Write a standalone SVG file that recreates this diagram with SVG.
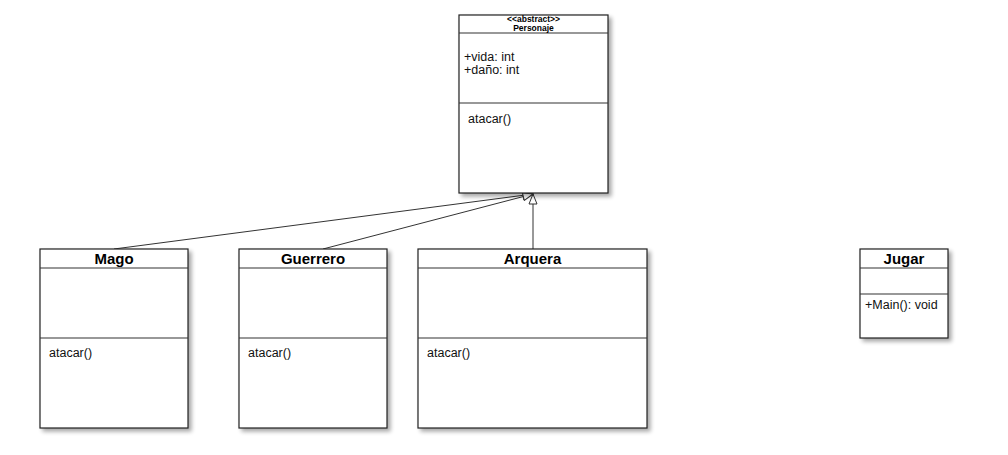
<svg xmlns="http://www.w3.org/2000/svg" width="1008" height="455" viewBox="0 0 1008 455">
<defs>
<filter id="sh" x="-10%" y="-10%" width="130%" height="130%">
<feGaussianBlur in="SourceAlpha" stdDeviation="2"/>
<feOffset dx="3" dy="3" result="b"/>
<feComponentTransfer><feFuncA type="linear" slope="0.35"/></feComponentTransfer>
<feMerge><feMergeNode/><feMergeNode in="SourceGraphic"/></feMerge>
</filter>
<marker id="gen" viewBox="0 0 12 10" refX="11" refY="5" markerWidth="12" markerHeight="10" markerUnits="userSpaceOnUse" orient="auto">
<path d="M1,1 L11,5 L1,9 Z" fill="#fff" stroke="#333" stroke-width="1"/>
</marker>
</defs>
<style>
.box{fill:#fff;stroke:#222;stroke-width:1.2}
.ln{stroke:#333;stroke-width:1.2}
.t{font-family:"Liberation Sans",Arial,sans-serif;font-size:12.5px;fill:#111}
.h{font-family:"Liberation Sans",Arial,sans-serif;font-size:15px;font-weight:bold;fill:#000;text-anchor:middle}
.s{font-family:"Liberation Sans",Arial,sans-serif;font-size:8.5px;font-weight:bold;fill:#000;text-anchor:middle}
.c{stroke:#333;stroke-width:1;fill:none}
</style>
<rect width="1008" height="455" fill="#fff"/>
<g id="connectors">
<line class="c" x1="114" y1="249" x2="533" y2="194" marker-end="url(#gen)"/>
<line class="c" x1="323" y1="249" x2="533" y2="194" marker-end="url(#gen)"/>
<line class="c" x1="533" y1="249" x2="533" y2="194" marker-end="url(#gen)"/>
</g>
<g id="personaje">
<rect class="box" x="459" y="15" width="149" height="178" filter="url(#sh)"/>
<line class="ln" x1="459" y1="33" x2="608" y2="33"/>
<line class="ln" x1="459" y1="103" x2="608" y2="103"/>
<text class="s" x="533.5" y="22">&lt;&lt;abstract&gt;&gt;</text>
<text class="s" x="533.5" y="31">Personaje</text>
<text class="t" x="464" y="61">+vida: int</text>
<text class="t" x="464" y="74">+daño: int</text>
<text class="t" x="468" y="123">atacar()</text>
</g>
<g id="mago">
<rect class="box" x="40" y="249" width="148" height="179" filter="url(#sh)"/>
<line class="ln" x1="40" y1="268" x2="188" y2="268"/>
<line class="ln" x1="40" y1="338" x2="188" y2="338"/>
<text class="h" x="114" y="264">Mago</text>
<text class="t" x="49" y="357">atacar()</text>
</g>
<g id="guerrero">
<rect class="box" x="239" y="249" width="148" height="179" filter="url(#sh)"/>
<line class="ln" x1="239" y1="268" x2="387" y2="268"/>
<line class="ln" x1="239" y1="338" x2="387" y2="338"/>
<text class="h" x="313" y="264">Guerrero</text>
<text class="t" x="248" y="357">atacar()</text>
</g>
<g id="arquera">
<rect class="box" x="418" y="249" width="229" height="179" filter="url(#sh)"/>
<line class="ln" x1="418" y1="268" x2="647" y2="268"/>
<line class="ln" x1="418" y1="338" x2="647" y2="338"/>
<text class="h" x="532.5" y="264">Arquera</text>
<text class="t" x="427" y="357">atacar()</text>
</g>
<g id="jugar">
<rect class="box" x="860" y="249" width="88" height="89" filter="url(#sh)"/>
<line class="ln" x1="860" y1="268" x2="948" y2="268"/>
<line class="ln" x1="860" y1="294" x2="948" y2="294"/>
<text class="h" x="904" y="264">Jugar</text>
<text class="t" x="865" y="309">+Main(): void</text>
</g>
</svg>
